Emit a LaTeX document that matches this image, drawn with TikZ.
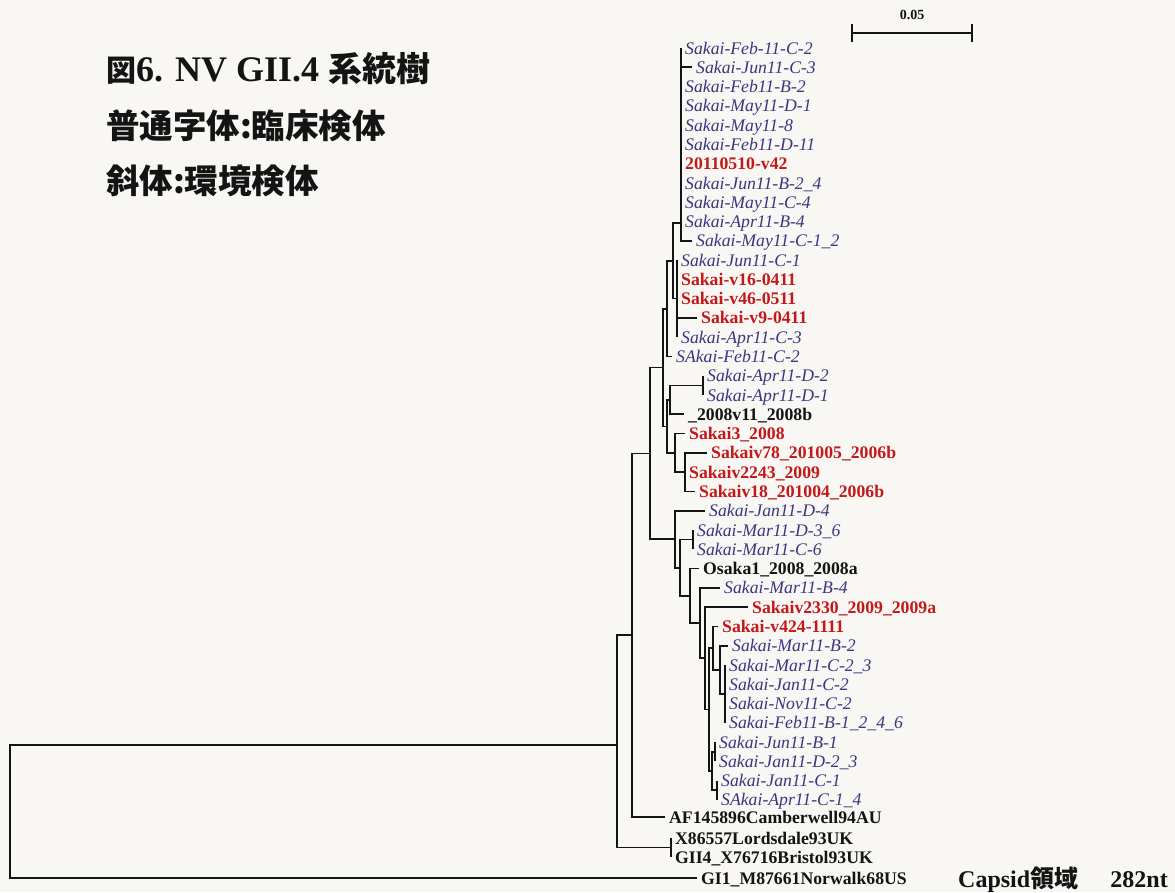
\documentclass[tikz,border=0pt]{standalone}
\usepackage{fontspec}
\setmainfont{Liberation Serif}
\newfontfamily\cjk{Noto Sans CJK JP}
\definecolor{bg}{RGB}{248,247,243}
\definecolor{envc}{RGB}{58,54,128}
\definecolor{clin}{RGB}{196,24,26}
\definecolor{ink}{RGB}{20,20,20}
\begin{document}
\begin{tikzpicture}[x=1pt,y=-1pt,
 br/.style={line width=1.7pt, draw=ink},
 lf/.style={anchor=west, inner xsep=4pt, inner ysep=0pt, text height=12pt, text depth=0pt},
 env/.style={lf, text=envc, font=\itshape\fontsize{17.7}{20}\selectfont},
 cli/.style={lf, text=clin, font=\bfseries\fontsize{17.7}{20}\selectfont},
 ref/.style={lf, text=ink, font=\bfseries\fontsize{17.7}{20}\selectfont},
 cjkbig/.style={anchor=base west, inner sep=0pt, text=ink},
]
\fill[bg] (0,0) rectangle (1175,892);
\useasboundingbox (0,0) rectangle (1175,892);

% titles
\node[cjkbig] (title) at (106,81) {{\cjk\bfseries\fontsize{30}{36}\selectfont 図}{\bfseries\fontsize{36}{40}\selectfont 6. NV GII.4 }{\cjk\bfseries\fontsize{34}{40}\selectfont 系統樹}};
\node[cjkbig] (leg1) at (106,138) {\cjk\bfseries\fontsize{33.5}{38}\selectfont 普通字体:臨床検体};
\node[cjkbig] (leg2) at (106,193) {\cjk\bfseries\fontsize{33.5}{38}\selectfont 斜体:環境検体};
\node[cjkbig] (capsid) at (958,887) {\bfseries\fontsize{24}{28}\selectfont Capsid{\cjk\bfseries 領域}};
\node[anchor=base east, inner sep=0pt, text=ink] (nt) at (1168,887) {\bfseries\fontsize{24}{28}\selectfont 282nt};

% scale bar
\coordinate (sbL) at (852,33);
\coordinate (sbR) at (972,33);
\draw[br] (sbL) -- (sbR);
\draw[br] (852,24) -- (852,42);
\draw[br] (972,24) -- (972,42);
\node[inner sep=0pt, text=ink] (sblab) at (912,15) {\bfseries\fontsize{14}{16}\selectfont 0.05};

% leaves
\node[env] (l1) at (681,48.0) {Sakai-Feb-11-C-2};
\node[env] (l2) at (692,67.3) {Sakai-Jun11-C-3};
\node[env] (l3) at (681,86.6) {Sakai-Feb11-B-2};
\node[env] (l4) at (681,105.8) {Sakai-May11-D-1};
\node[env] (l5) at (681,125.1) {Sakai-May11-8};
\node[env] (l6) at (681,144.4) {Sakai-Feb11-D-11};
\node[cli] (l7) at (681,163.7) {20110510-v42};
\node[env] (l8) at (681,183.0) {Sakai-Jun11-B-2\_4};
\node[env] (l9) at (681,202.2) {Sakai-May11-C-4};
\node[env] (l10) at (681,221.5) {Sakai-Apr11-B-4};
\node[env] (l11) at (692,240.8) {Sakai-May11-C-1\_2};
\node[env] (l12) at (677,260.1) {Sakai-Jun11-C-1};
\node[cli] (l13) at (677,279.4) {Sakai-v16-0411};
\node[cli] (l14) at (677,298.6) {Sakai-v46-0511};
\node[cli] (l15) at (697,317.9) {Sakai-v9-0411};
\node[env] (l16) at (677,337.2) {Sakai-Apr11-C-3};
\node[env] (l17) at (672,356.5) {SAkai-Feb11-C-2};
\node[env] (l18) at (703,375.8) {Sakai-Apr11-D-2};
\node[env] (l19) at (703,395.0) {Sakai-Apr11-D-1};
\node[ref] (l20) at (684,414.3) {\_2008v11\_2008b};
\node[cli] (l21) at (685,433.6) {Sakai3\_2008};
\node[cli] (l22) at (707,452.9) {Sakaiv78\_201005\_2006b};
\node[cli] (l23) at (685,472.2) {Sakaiv2243\_2009};
\node[cli] (l24) at (695,491.4) {Sakaiv18\_201004\_2006b};
\node[env] (l25) at (705,510.7) {Sakai-Jan11-D-4};
\node[env] (l26) at (693,530.0) {Sakai-Mar11-D-3\_6};
\node[env] (l27) at (693,549.3) {Sakai-Mar11-C-6};
\node[ref] (l28) at (699,568.6) {Osaka1\_2008\_2008a};
\node[env] (l29) at (720,587.8) {Sakai-Mar11-B-4};
\node[cli] (l30) at (748,607.1) {Sakaiv2330\_2009\_2009a};
\node[cli] (l31) at (718,626.4) {Sakai-v424-1111};
\node[env] (l32) at (728,645.7) {Sakai-Mar11-B-2};
\node[env] (l33) at (725,665.0) {Sakai-Mar11-C-2\_3};
\node[env] (l34) at (725,684.2) {Sakai-Jan11-C-2};
\node[env] (l35) at (725,703.5) {Sakai-Nov11-C-2};
\node[env] (l36) at (725,722.8) {Sakai-Feb11-B-1\_2\_4\_6};
\node[env] (l37) at (715,742.1) {Sakai-Jun11-B-1};
\node[env] (l38) at (715,761.4) {Sakai-Jan11-D-2\_3};
\node[env] (l39) at (717,780.6) {Sakai-Jan11-C-1};
\node[env] (l40) at (717,799.9) {SAkai-Apr11-C-1\_4};
\node[ref] (af) at (665,817) {AF145896Camberwell94AU};
\node[ref] (lord) at (671,838) {X86557Lordsdale93UK};
\node[ref] (bris) at (671,857) {GII4\_X76716Bristol93UK};
\node[ref] (gi1) at (697,878) {GI1\_M87661Norwalk68US};

% internal nodes
\coordinate (root) at (10,811.5);
\coordinate (n1) at (617,745);
\coordinate (nLB) at (671,847.5);
\coordinate (n2) at (632,635.3);
\coordinate (n3) at (650,453.6);
\coordinate (n4) at (663,367.6);
\coordinate (nA) at (667,308.75);
\coordinate (nB) at (673,260.8);
\coordinate (nC) at (681,223);
\coordinate (nD) at (677,298.6);
\coordinate (n7) at (667,426.4);
\coordinate (n8) at (670,399.85);
\coordinate (n10) at (703,385.4);
\coordinate (n9) at (675,452.9);
\coordinate (n11) at (685,472.2);
\coordinate (n5) at (675,539.2);
\coordinate (n12) at (680,567.7);
\coordinate (n13) at (693,539.6);
\coordinate (n14) at (690,595.8);
\coordinate (n15) at (700,623);
\coordinate (n16) at (705,658.3);
\coordinate (n17) at (709,709.6);
\coordinate (n18) at (713,648.1);
\coordinate (n20) at (720,669.8);
\coordinate (n21) at (725,693.9);
\coordinate (n19) at (712,771);
\coordinate (n22) at (715,751.75);
\coordinate (n23) at (717,790.25);

% branches
\foreach \p/\c in {root/n1, root/gi1.west, n1/n2, n1/nLB, nLB/lord.west, nLB/bris.west,
  n2/n3, n2/af.west, n3/n4, n3/n5, n4/nA, n4/n7, nA/nB, nA/l17.west, nB/nC, nB/nD,
  nC/l1.west, nC/l2.west, nC/l3.west, nC/l4.west, nC/l5.west, nC/l6.west, nC/l7.west,
  nC/l8.west, nC/l9.west, nC/l10.west, nC/l11.west,
  nD/l12.west, nD/l13.west, nD/l14.west, nD/l15.west, nD/l16.west,
  n7/n8, n7/n9, n8/n10, n8/l20.west, n10/l18.west, n10/l19.west,
  n9/l21.west, n9/n11, n11/l22.west, n11/l23.west, n11/l24.west,
  n5/l25.west, n5/n12, n12/n13, n12/n14, n13/l26.west, n13/l27.west,
  n14/l28.west, n14/n15, n15/l29.west, n15/n16, n16/l30.west, n16/n17,
  n17/n18, n17/n19, n18/l31.west, n18/n20, n20/l32.west, n20/n21,
  n21/l33.west, n21/l34.west, n21/l35.west, n21/l36.west,
  n19/n22, n19/n23, n22/l37.west, n22/l38.west, n23/l39.west, n23/l40.west}
  \draw[br] (\p) |- (\c);
\end{tikzpicture}
\end{document}
